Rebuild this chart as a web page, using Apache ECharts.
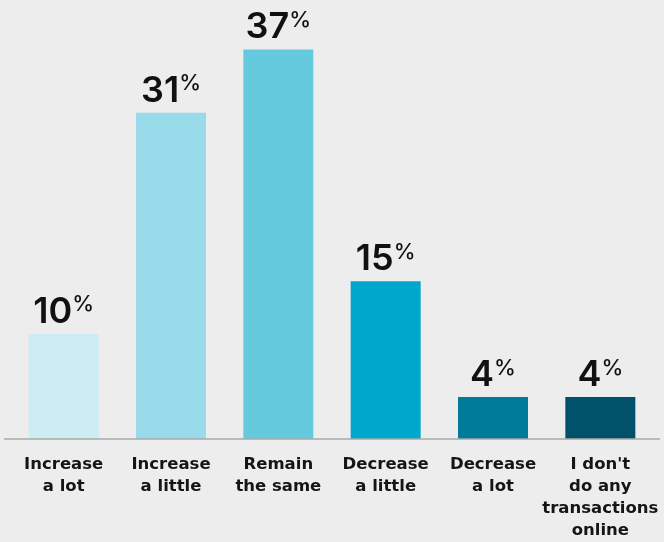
<!DOCTYPE html>
<html>
<head>
<meta charset="utf-8">
<script src="https://cdn.jsdelivr.net/npm/echarts@6/dist/echarts.min.js"></script>
<style>
  html, body { margin: 0; padding: 0; background: #ededed; }
  #chart { width: 664px; height: 542px; }
</style>
</head>
<body>
<div id="chart"></div>
<script>
// Expected change in online transactions
const categories = [
  'Increase\na lot',
  'Increase\na little',
  'Remain\nthe same',
  'Decrease\na little',
  'Decrease\na lot',
  "I don't\ndo any\ntransactions\nonline"
];
const shares = [10, 31, 37, 15, 4, 4];
const barColors = ['#cdedf4', '#99dbeb', '#66cadf', '#00a7cc', '#007b99', '#00526a'];

const chart = echarts.init(document.getElementById('chart'));
const FONT = 'Inter, "Noto Sans", sans-serif';

chart.setOption({
  backgroundColor: '#ededed',
  animation: false,
  grid: { left: 10, right: 10, top: 18, bottom: 103 },
  xAxis: {
    type: 'category',
    data: categories,
    axisLine: { show: false },
    axisTick: { show: false },
    axisLabel: {
      interval: 0,
      margin: 15,
      color: '#151515',
      fontFamily: '"DejaVu Sans", sans-serif',
      fontSize: 16.5,
      fontWeight: 'bold',
      lineHeight: 22
    }
  },
  yAxis: {
    type: 'value',
    min: 0,
    max: 40,
    show: false,
    splitLine: { show: false }
  },
  series: [{
    type: 'bar',
    barWidth: 70,
    data: shares.map((v, i) => ({ value: v, itemStyle: { color: barColors[i] } })),
    label: {
      show: true,
      position: 'top',
      distance: 4,
      formatter: p => '{n|' + p.value + '}{p|%}',
      rich: {
        n: { fontFamily: FONT, fontSize: 36, fontWeight: 600, color: '#111' },
        p: { fontFamily: FONT, fontSize: 22, fontWeight: 500, color: '#111', verticalAlign: 'top', padding: [0, 0, 12, 0] }
      }
    }
  }]
});

// Baseline rule spanning the full width below the bars
const baseY = chart.convertToPixel({ yAxisIndex: 0 }, 0);
chart.setOption({
  graphic: [{
    type: 'line',
    shape: { x1: 4, y1: baseY, x2: 660, y2: baseY },
    style: { stroke: '#a8a8a8', lineWidth: 1.5 },
    z: 10
  }]
});
</script>
</body>
</html>
